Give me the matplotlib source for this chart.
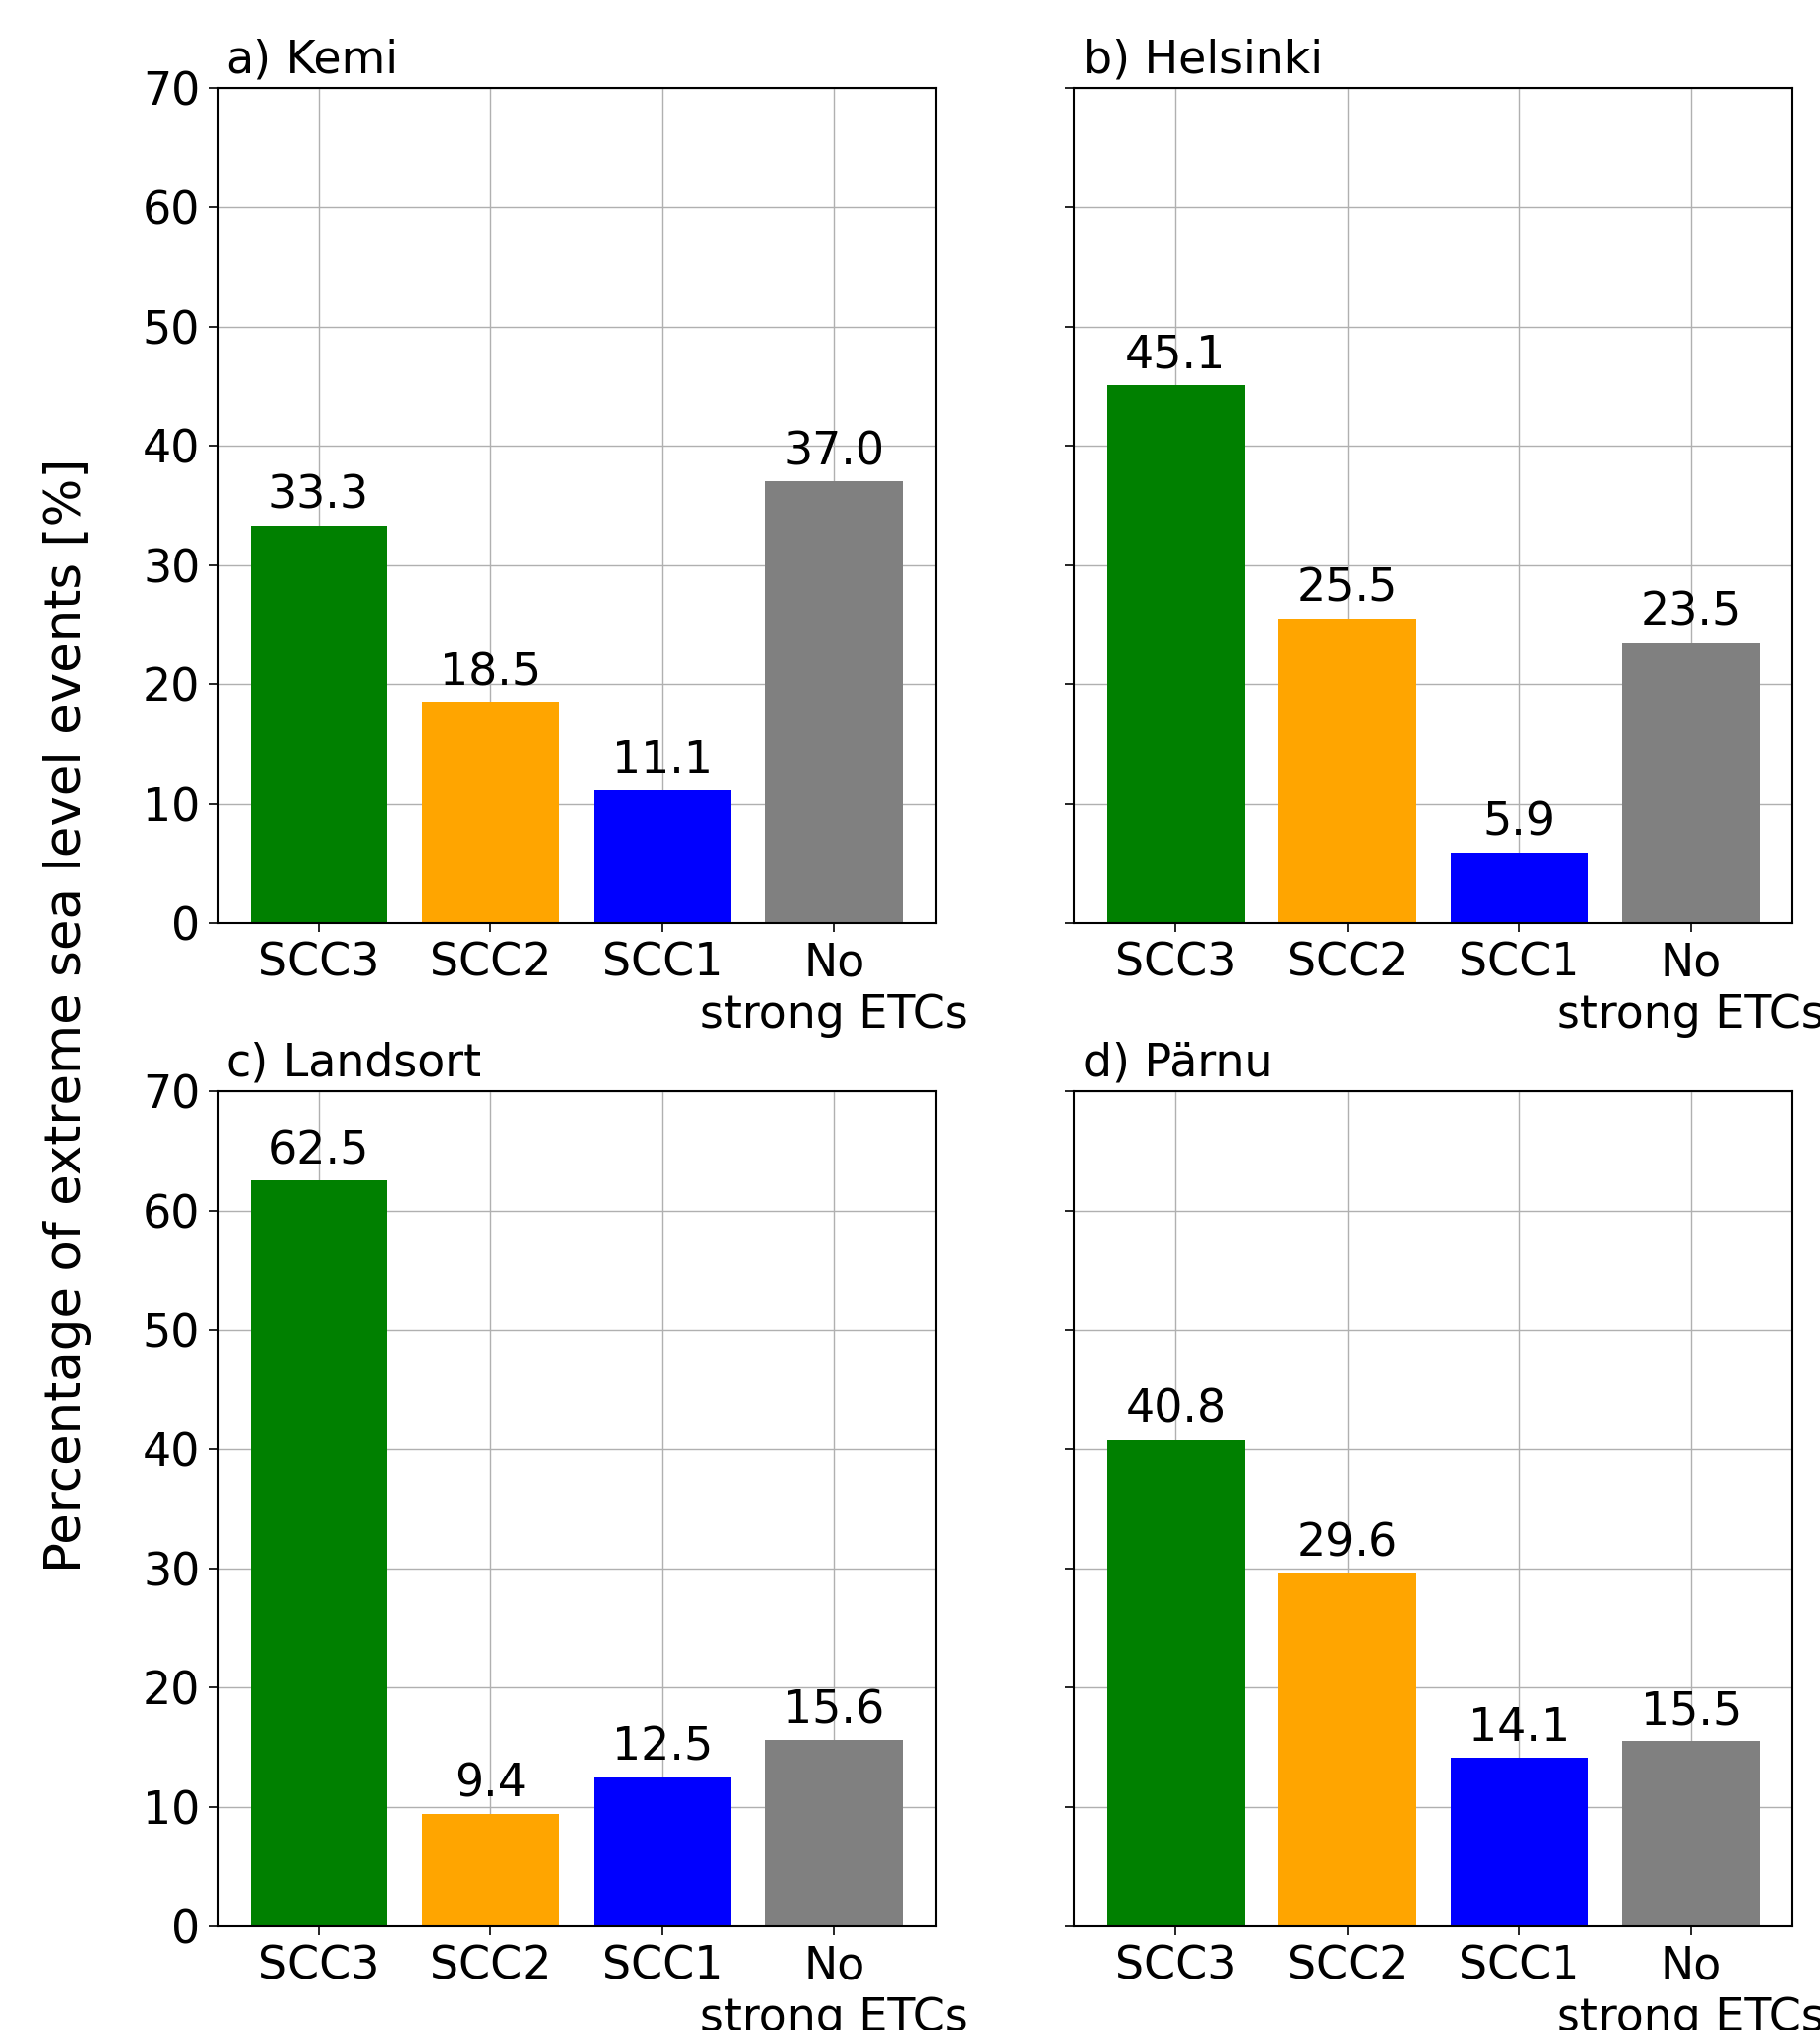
import matplotlib.pyplot as plt

categories = ['SCC3', 'SCC2', 'SCC1', 'No\nstrong ETCs']
colors = ['green', 'orange', 'blue', 'gray']

stations = ['a) Kemi', 'b) Helsinki', 'c) Landsort', 'd) Pärnu']
kemi = [33.3, 18.5, 11.1, 37.0]
helsinki = [45.1, 25.5, 5.9, 23.5]
landsort = [62.5, 9.4, 12.5, 15.6]
parnu = [40.8, 29.6, 14.1, 15.5]
values = [kemi, helsinki, landsort, parnu]

plt.rcParams['font.size'] = 33
plt.rcParams['axes.linewidth'] = 1.5
plt.rcParams['xtick.major.size'] = 6.5
plt.rcParams['ytick.major.size'] = 6.5
plt.rcParams['xtick.major.width'] = 1.2
plt.rcParams['ytick.major.width'] = 1.2
plt.rcParams['xtick.major.pad'] = 7
plt.rcParams['ytick.major.pad'] = 6

fig = plt.figure(figsize=(18.38, 20.5), dpi=100)

# axes boxes: [left, bottom, width, height]
boxes = [
    [0.1195, 0.5454, 0.3945, 0.4112],
    [0.5903, 0.5454, 0.3945, 0.4112],
    [0.1195, 0.0512, 0.3945, 0.4112],
    [0.5903, 0.0512, 0.3945, 0.4112],
]

for i, (name, vals, box) in enumerate(zip(stations, values, boxes)):
    ax = fig.add_axes(box)
    x = range(len(categories))
    bars = ax.bar(x, vals, color=colors, width=0.8, zorder=2)
    ax.bar_label(bars, fmt='%.1f', padding=5)
    ax.set_xticks(list(x))
    ax.set_xticklabels(categories, ha='center', multialignment='center')
    ax.set_ylim(0, 70)
    ax.set_yticks(range(0, 71, 10))
    ax.grid(True, color='#b0b0b0', linewidth=1.0, zorder=0)
    ax.set_axisbelow(True)
    ax.set_title(name, loc='left', x=0.012, pad=11, fontsize=33)
    if i % 2 == 1:
        ax.set_yticklabels([])

fig.text(0.037, 0.5, 'Percentage of extreme sea level events [%]',
         rotation=90, va='center', ha='center', fontsize=37)

fig.savefig('out.png', dpi=100)
